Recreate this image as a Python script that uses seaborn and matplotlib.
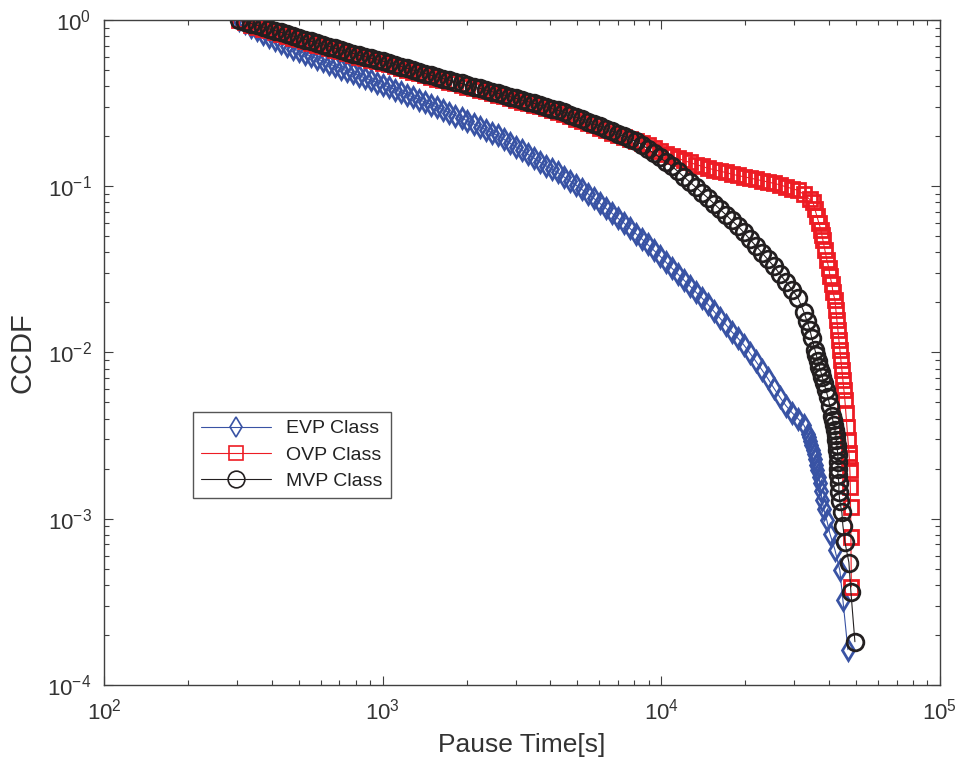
import pandas as pd
import matplotlib
matplotlib.use("Agg")
import matplotlib.pyplot as plt
import seaborn as sns

sns.set_theme(style="ticks")
plt.rcParams["font.family"] = ["Liberation Sans", "DejaVu Sans"]

# pause times [s] shared by the dense upper part of the three curves
head_time = [
    306, 321, 338, 355, 373, 392, 412, 433, 455, 478,
    502, 528, 554, 583, 612, 644, 676, 711, 747, 785,
    825, 867, 911, 957, 1006, 1057, 1111, 1168, 1227, 1290,
    1355, 1424, 1497, 1573, 1653, 1737, 1826, 1919, 2016, 2119,
    2227, 2340, 2459, 2584, 2716, 2854, 2999, 3152, 3312, 3481,
    3658, 3844, 4040, 4246, 4462, 4689, 4927, 5178, 5442, 5719,
    6010, 6316, 6637, 6975, 7330, 7703, 8095, 8507, 8940, 9395,
    9873, 10380, 10900, 11460, 12040, 12660, 13300, 13980, 14690, 15440,
    16220, 17050, 17910, 18830, 19780, 20790, 21850, 22960, 24130, 25360,
    26650, 28000, 29430, 30930, 32500, 34150,
]

# EVP class
evp_head_ccdf = [
    1.000, 0.954, 0.910, 0.868, 0.828, 0.790, 0.759, 0.729, 0.700, 0.673,
    0.648, 0.626, 0.604, 0.583, 0.563, 0.544, 0.526, 0.509, 0.493, 0.477,
    0.462, 0.447, 0.433, 0.420, 0.406, 0.394, 0.381, 0.368, 0.355, 0.343,
    0.331, 0.320, 0.309, 0.298, 0.287, 0.277, 0.266, 0.257, 0.247, 0.237,
    0.228, 0.219, 0.210, 0.202, 0.192, 0.182, 0.173, 0.165, 0.156, 0.148,
    0.140, 0.133, 0.127, 0.121, 0.114, 0.108, 0.102, 0.0957, 0.0903, 0.0846,
    0.0791, 0.0738, 0.0690, 0.0643, 0.0602, 0.0559, 0.0519, 0.0482, 0.0446, 0.0412,
    0.0381, 0.0350, 0.0322, 0.0297, 0.0273, 0.0251, 0.0231, 0.0213, 0.0195, 0.0177,
    0.0161, 0.0147, 0.0133, 0.0122, 0.0111, 0.00992, 0.00885, 0.00786, 0.00697, 0.00610,
    0.00538, 0.00479, 0.00435, 0.00400, 0.00365,
]
evp_tail_time = [
    33590, 33870, 34150, 34570, 34990, 35280, 35570, 35870, 36170, 36780,
    37090, 37390, 37700, 38330, 39290, 40290, 42000, 43750, 44860, 46750,
]
evp_tail_ccdf = [
    0.00325, 0.00309, 0.00293, 0.00276, 0.00260, 0.00244, 0.00228, 0.00211, 0.00195, 0.00179,
    0.00163, 0.00146, 0.00130, 0.00114, 0.000976, 0.000813, 0.000650, 0.000488, 0.000325, 0.000163,
]

# OVP class
ovp_head_ccdf = [
    1.000, 0.966, 0.937, 0.909, 0.887, 0.865, 0.845, 0.824, 0.803, 0.784,
    0.764, 0.747, 0.728, 0.711, 0.694, 0.678, 0.661, 0.646, 0.630, 0.615,
    0.600, 0.588, 0.576, 0.564, 0.552, 0.540, 0.527, 0.514, 0.501, 0.489,
    0.477, 0.465, 0.454, 0.444, 0.434, 0.425, 0.416, 0.406, 0.397, 0.388,
    0.380, 0.372, 0.363, 0.355, 0.347, 0.339, 0.331, 0.323, 0.316, 0.309,
    0.302, 0.294, 0.287, 0.280, 0.272, 0.264, 0.255, 0.247, 0.239, 0.232,
    0.225, 0.218, 0.210, 0.204, 0.199, 0.193, 0.188, 0.182, 0.176, 0.169,
    0.163, 0.157, 0.151, 0.147, 0.143, 0.139, 0.135, 0.132, 0.128, 0.126,
    0.123, 0.121, 0.118, 0.116, 0.114, 0.112, 0.110, 0.108, 0.106, 0.104,
    0.102, 0.0991, 0.0968, 0.0944, 0.0893, 0.0832,
]
ovp_tail_time = [
    34990, 35570, 36170, 36780, 37390, 37700, 38020, 38650, 39290, 39950,
    40290, 40960, 41300, 42000, 42330, 42680, 43040, 43400, 43750, 44110,
    44480, 44860, 45230, 45600, 45980, 46370, 46750, 47140, 47300, 47530,
    47700, 47800, 47930, 48100,
]
ovp_tail_ccdf = [
    0.0804, 0.0730, 0.0663, 0.0601, 0.0546, 0.0509, 0.0475, 0.0413, 0.0360, 0.0322,
    0.0289, 0.0258, 0.0231, 0.0207, 0.0180, 0.0157, 0.0137, 0.0119, 0.0104, 0.00902,
    0.00785, 0.00683, 0.00595, 0.00518, 0.00433, 0.00356, 0.00298, 0.00249, 0.00233, 0.00195,
    0.00156, 0.00117, 0.000778, 0.000389,
]

# MVP class
mvp_head_ccdf = [
    1.000, 0.975, 0.951, 0.928, 0.905, 0.883, 0.862, 0.841, 0.820, 0.800,
    0.781, 0.762, 0.744, 0.726, 0.708, 0.692, 0.675, 0.659, 0.643, 0.628,
    0.613, 0.601, 0.588, 0.575, 0.564, 0.551, 0.538, 0.524, 0.512, 0.499,
    0.487, 0.475, 0.464, 0.453, 0.443, 0.434, 0.424, 0.415, 0.406, 0.396,
    0.388, 0.379, 0.371, 0.362, 0.354, 0.346, 0.338, 0.330, 0.323, 0.315,
    0.308, 0.301, 0.293, 0.286, 0.278, 0.269, 0.261, 0.252, 0.244, 0.237,
    0.229, 0.222, 0.215, 0.207, 0.200, 0.193, 0.186, 0.178, 0.168, 0.158,
    0.149, 0.140, 0.132, 0.123, 0.114, 0.106, 0.0986, 0.0916, 0.0851, 0.0786,
    0.0728, 0.0674, 0.0622, 0.0576, 0.0527, 0.0480, 0.0438, 0.0398, 0.0363, 0.0330,
    0.0296, 0.0266, 0.0239, 0.0214,
]
mvp_tail_time = [
    32500, 33310, 34150, 34700, 35570, 36030, 36480, 36940, 37390, 37850,
    38330, 38970, 39620, 40290, 40960, 41300, 41650, 42000, 42330, 42520,
    42680, 42860, 43040, 43040, 43040, 43040, 43400, 43400, 43750, 44480,
    44860, 45600, 47140, 47930, 49540,
]
mvp_tail_ccdf = [
    0.0175, 0.0155, 0.0137, 0.0122, 0.0104, 0.00959, 0.00889, 0.00823, 0.00763, 0.00707,
    0.00655, 0.00595, 0.00540, 0.00477, 0.00415, 0.00390, 0.00366, 0.00342, 0.00319, 0.00298,
    0.00278, 0.00259, 0.00242, 0.00218, 0.00200, 0.00182, 0.00164, 0.00145, 0.00127, 0.00109,
    0.000909, 0.000727, 0.000545, 0.000364, 0.000182,
]

series = [
    ("EVP Class", head_time[:len(evp_head_ccdf)] + evp_tail_time,
     evp_head_ccdf + evp_tail_ccdf, "#3953A4", "d", 10.5),
    ("OVP Class", head_time[:len(ovp_head_ccdf)] + ovp_tail_time,
     ovp_head_ccdf + ovp_tail_ccdf, "#ED1C24", "s", 9.5),
    ("MVP Class", head_time[:len(mvp_head_ccdf)] + mvp_tail_time,
     mvp_head_ccdf + mvp_tail_ccdf, "#231F20", "o", 12),
]

fig, ax = plt.subplots(figsize=(9.63, 7.67), dpi=100)
fig.subplots_adjust(left=0.108, right=0.976, bottom=0.107, top=0.974)

for name, t, c, color, marker, ms in series:
    df = pd.DataFrame({"Pause Time": t, "CCDF": c})
    sns.lineplot(
        data=df, x="Pause Time", y="CCDF", ax=ax,
        estimator=None, sort=False, label=name,
        color=color, linewidth=0.8,
        marker=marker, markersize=ms,
        markerfacecolor="none", markeredgecolor=color, markeredgewidth=2.0,
    )

ax.set_xscale("log")
ax.set_yscale("log")
ax.set_xlim(1e2, 1e5)
ax.set_ylim(1e-4, 1)

ax.set_xlabel("Pause Time[s]", fontsize=19, color="#333333", labelpad=6)
ax.set_ylabel("CCDF", fontsize=21, color="#333333", labelpad=8)

ax.tick_params(which="both", direction="in", top=True, right=True,
               color="#404040", labelcolor="#333333", width=0.8)
ax.tick_params(which="major", length=6.5, labelsize=16)
ax.tick_params(which="minor", length=3.5)
ax.tick_params(axis="x", which="major", pad=10)
ax.tick_params(axis="y", which="major", pad=9)

for sp in ax.spines.values():
    sp.set_color("#404040")
    sp.set_linewidth(1.0)

leg = ax.legend(
    loc="upper left", bbox_to_anchor=(0.1065, 0.4105), borderaxespad=0,
    frameon=True, fancybox=False, framealpha=1, fontsize=14,
    handlelength=3.6, handletextpad=0.8, labelspacing=0.45, borderpad=0.4,
)
leg.get_frame().set_edgecolor("#555555")
leg.get_frame().set_linewidth(1.0)
for txt in leg.get_texts():
    txt.set_color("#222222")
for line in leg.get_lines():
    line.set_markeredgewidth(1.2)

fig.savefig("out.png", dpi=100)
